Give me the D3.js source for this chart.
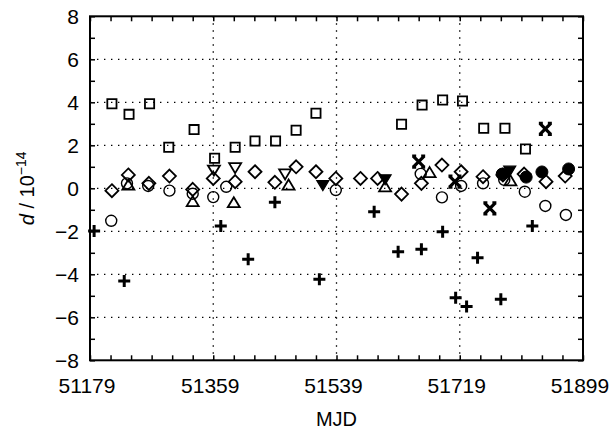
<!DOCTYPE html>
<html>
<head>
<meta charset="utf-8">
<script src="https://cdn.jsdelivr.net/npm/d3@7"></script>
<style>
  body { margin: 0; background: #fff; }
  text { font-family: Arial, "Liberation Sans", sans-serif; fill: #000; }
</style>
</head>
<body>
<script>
// values: [MJD, d / 1e-14]
var squares = [[51211,3.93],[51236,3.44],[51266,3.93],[51294,1.91],[51331,2.73],[51361,1.40],[51391,1.91],
               [51420,2.2],[51450,2.2],[51480,2.7],[51509,3.49],[51634,2.98],[51664,3.87],[51694,4.11],
               [51723,4.06],[51754,2.79],[51785,2.79],[51815,1.83]]
var diamonds = [[51211,-0.11],[51235,0.62],[51265,0.23],[51295,0.57],[51329,-0.05],[51359,0.46],[51391,0.31],
                [51420,0.77],[51449,0.28],[51480,1.0],[51509,0.77],[51538,0.46],[51574,0.46],[51599,0.46],
                [51634,-0.27],[51663,0.23],[51693,1.08],[51721,0.77],[51753,0.54],[51782,0.62],[51813,0.66],
                [51845,0.31],[51873,0.57]]
var circles = [[51210,-1.51],[51233,0.23],[51264,0.11],[51295,-0.11],[51329,-0.25],[51359,-0.41],[51378,0.07],
               [51538,-0.08],[51662,0.67],[51693,-0.42],[51721,0.11],[51753,0.23],[51784,0.39],[51814,-0.16],
               [51844,-0.82],[51874,-1.24]]
var trianglesUp = [[51235,0.15],[51329,-0.62],[51389,-0.67],[51469,0.15],[51610,0.07],[51675,0.73],[51793,0.35]]
var trianglesDown = [[51360,0.85],[51391,0.96],[51464,0.67]]
var trianglesDownFilled = [[51519,0.15],[51610,0.42],[51792,0.82]]
var crosses = [[51659,1.24],[51712,0.31],[51763,-0.93],[51844,2.76]]
var dots = [[51781,0.66],[51816,0.52],[51839,0.76],[51878,0.9]]
var pluses = [[51185,-1.99],[51229,-4.31],[51370,-1.75],[51410,-3.3],[51449,-0.65],[51514,-4.23],[51594,-1.09],
              [51629,-2.95],[51663,-2.84],[51694,-2.02],[51713,-5.09],[51729,-5.5],[51745,-3.23],[51779,-5.16],
              [51825,-1.75]]

var xLabels = [51179, 51359, 51539, 51719, 51899]
var yLabels = [-8, -6, -4, -2, 0, 2, 4, 6, 8]
var xGrid = [51359, 51539, 51719]
var yGrid = [-6, -4, -2, 0, 2, 4, 6]

var width = 615, height = 437
var pLeft = 90, pRight = 583, pTop = 16.3, pBottom = 360.3

var svg = d3.select('body').append('svg').attr('width', width).attr('height', height)

var x = d3.scaleLinear().domain([51179, 51899]).range([pLeft, pRight])
var y = d3.scaleLinear().domain([-8, 8]).range([pBottom, pTop])

// dotted grid
svg.selectAll('.gx').data(xGrid).enter().append('line')
   .attr('x1', d => x(d)).attr('x2', d => x(d)).attr('y1', pTop).attr('y2', pBottom)
   .attr('stroke', '#000').attr('stroke-width', 1.3).attr('stroke-dasharray', '1.4,5.6')
svg.selectAll('.gy').data(yGrid).enter().append('line')
   .attr('x1', pLeft).attr('x2', pRight).attr('y1', d => y(d)).attr('y2', d => y(d))
   .attr('stroke', '#000').attr('stroke-width', 1.3).attr('stroke-dasharray', '1.4,5.6')

// inward ticks on all four sides
var xt = d3.range(51179, 51900, 30)
var yt = d3.range(-8, 9, 1)
svg.append('g').attr('transform', 'translate(0,' + pBottom + ')')
   .call(d3.axisTop(x).tickValues(xt).tickSize(5).tickFormat(''))
svg.append('g').attr('transform', 'translate(0,' + pTop + ')')
   .call(d3.axisBottom(x).tickValues(xt).tickSize(5).tickFormat(''))
svg.append('g').attr('transform', 'translate(' + pLeft + ',0)')
   .call(d3.axisRight(y).tickValues(yt).tickSize(5).tickFormat(''))
svg.append('g').attr('transform', 'translate(' + pRight + ',0)')
   .call(d3.axisLeft(y).tickValues(yt).tickSize(5).tickFormat(''))
svg.selectAll('.domain').remove()
svg.selectAll('.tick line').attr('stroke', '#000').attr('stroke-width', 1.5)

svg.append('rect').attr('x', pLeft).attr('y', pTop).attr('width', pRight - pLeft).attr('height', pBottom - pTop)
   .attr('fill', 'none').attr('stroke', '#000').attr('stroke-width', 2)

// tick labels
svg.selectAll('.xl').data(xLabels).enter().append('text')
   .attr('x', d => x(d) - 3).attr('y', 393).attr('text-anchor', 'middle')
   .style('font-size', '21px').text(d => d)
svg.selectAll('.yl').data(yLabels).enter().append('text')
   .attr('x', 79).attr('y', d => y(d) + 7.5).attr('text-anchor', 'end')
   .style('font-size', '21px').text(d => d < 0 ? '\u2212' + (-d) : d)

svg.append('text').attr('x', (pLeft + pRight) / 2).attr('y', 426).attr('text-anchor', 'middle')
   .style('font-size', '20px').text('MJD')

var ttl = svg.append('text').attr('transform', 'translate(34,' + (pTop + pBottom) / 2 + ') rotate(-90)')
   .attr('text-anchor', 'middle').style('font-size', '20px')
ttl.append('tspan').style('font-style', 'italic').text('d')
ttl.append('tspan').text(' / 10')
ttl.append('tspan').attr('dy', -8).style('font-size', '14px').text('\u221214')

// markers
function plotSeries(data, pathFn, fill, sw) {
    svg.append('g').selectAll('path').data(data).enter().append('path')
       .attr('transform', d => 'translate(' + x(d[0]) + ',' + y(d[1]) + ')')
       .attr('d', pathFn)
       .attr('fill', fill)
       .attr('stroke', '#000')
       .attr('stroke-width', sw)
}
var sq = () => 'M-4.6,-4.6H4.6V4.6H-4.6Z'
var dm = () => 'M0,-6.5L6.5,0L0,6.5L-6.5,0Z'
var ci = () => d3.arc()({innerRadius: 0, outerRadius: 5.5, startAngle: 0, endAngle: 2 * Math.PI})
var tu = () => 'M0,-5.5L6,4.5L-6,4.5Z'
var td = () => 'M0,5.5L6,-4.5L-6,-4.5Z'
var pl = () => 'M-6,0H6M0,-6V6'
var cr = () => 'M-5,-5L5,5M5,-5L-5,5M-6.5,-5.5H-2.5M2.5,-5.5H6.5M-6.5,5.5H-2.5M2.5,5.5H6.5'
var dt = () => d3.arc()({innerRadius: 0, outerRadius: 6, startAngle: 0, endAngle: 2 * Math.PI})

plotSeries(squares, sq, 'none', 1.8)
plotSeries(diamonds, dm, 'none', 1.8)
plotSeries(circles, ci, 'none', 1.4)
plotSeries(trianglesUp, tu, 'none', 1.8)
plotSeries(trianglesDown, td, 'none', 1.8)
plotSeries(trianglesDownFilled, td, '#000', 1.2)
plotSeries(pluses, pl, 'none', 3)
plotSeries(crosses, cr, 'none', 3.2)
plotSeries(dots, dt, '#000', 1)
</script>
</body>
</html>
